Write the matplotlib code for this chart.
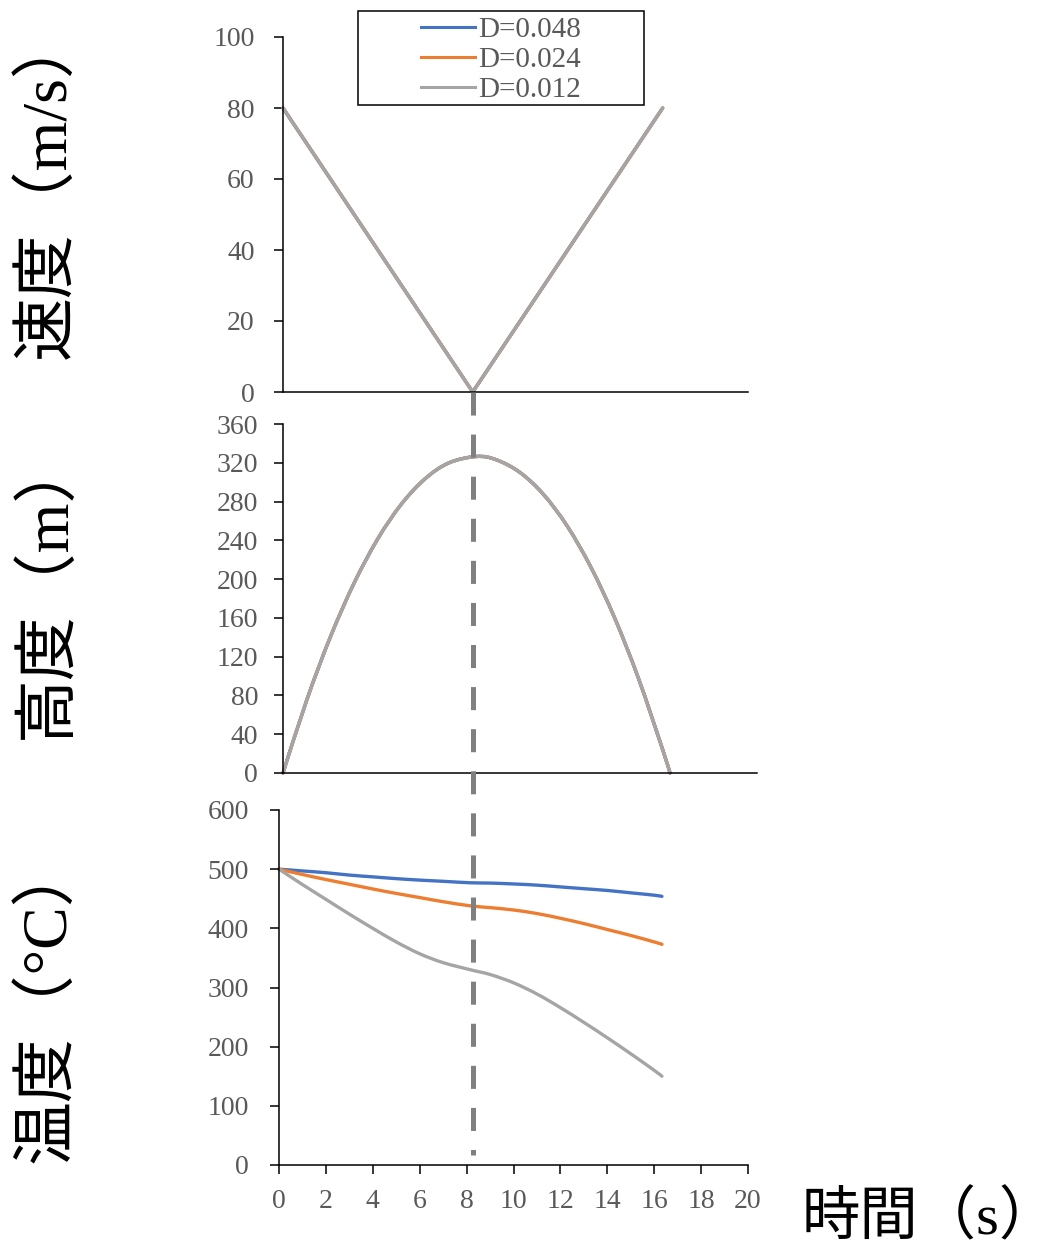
import matplotlib
matplotlib.use("Agg")
import matplotlib.pyplot as plt
from matplotlib.lines import Line2D
from matplotlib.patches import Rectangle, PathPatch
from matplotlib.path import Path

# ---- data ----
series_labels = ["D=0.048", "D=0.024", "D=0.012"]
series_colors = ["#4472C4", "#ED7D31", "#A5A5A5"]

# velocity (same for all diameters)
t_vel = [0, 8.16, 16.33]
velocity = [80, 0, 80]

# height (same for all diameters)
t_h = [0, 1, 2, 3, 4, 5, 6, 7, 8.16, 9, 10, 11, 12, 13, 14, 15, 16, 16.33]
height = [0, 75.1, 140.4, 195.9, 241.6, 277.5, 303.6, 319.9, 326.5,
          323.1, 310.0, 287.1, 254.4, 211.9, 159.6, 97.5, 25.6, 0]

# temperature for each diameter
t_temp = [0, 1, 2, 3, 4, 5, 6, 7, 8.16, 9, 10, 11, 12, 13, 14, 15, 16, 16.33]
temp_d048 = [500, 497, 494, 490, 487, 484, 481.5, 479.5, 477,
             476.5, 475, 473, 470, 467, 464, 460, 456, 454]
temp_d024 = [500, 491, 482.5, 474.5, 466.5, 459, 452, 445, 438,
             435, 431, 425, 417, 408, 398, 388, 377, 373]
temp_d012 = [500, 474, 449, 424, 400, 377, 357, 342, 330,
             322, 308, 289, 266, 241, 215, 188, 160, 150]

t_peak = 8.16

vel_ticks = [0, 20, 40, 60, 80, 100]
h_ticks = [0, 40, 80, 120, 160, 200, 240, 280, 320, 360]
temp_ticks = [0, 100, 200, 300, 400, 500, 600]
time_ticks = [0, 2, 4, 6, 8, 10, 12, 14, 16, 18, 20]

# ---- figure ----
W, H = 1056, 1249
DPI = 100
fig = plt.figure(figsize=(W / DPI, H / DPI), dpi=DPI)

serif = ["Liberation Serif", "DejaVu Serif"]
label_font = ["Liberation Serif", "Noto Sans CJK JP"]
tick_color = "#595959"


def px_rect(left, right, top, bottom):
    return [left / W, 1 - bottom / H, (right - left) / W, (bottom - top) / H]


ax_v = fig.add_axes(px_rect(283, 748, 37, 392))
ax_h = fig.add_axes(px_rect(283, 757, 424, 773))
ax_t = fig.add_axes(px_rect(279, 748, 810, 1165))


def style(ax, yticks, pad, show_x):
    ax.set_xlim(0, 20)
    ax.set_ylim(yticks[0], yticks[-1])
    ax.set_yticks(yticks)
    for side in ("top", "right"):
        ax.spines[side].set_visible(False)
    for side in ("left", "bottom"):
        ax.spines[side].set_linewidth(1.1)
        ax.spines[side].set_color("black")
    ax.tick_params(axis="y", direction="out", length=6.5, width=1.1,
                   labelsize=20, labelcolor=tick_color, pad=pad)
    if show_x:
        ax.set_xticks(time_ticks)
        ax.tick_params(axis="x", direction="out", length=6.5, width=1.1,
                       labelsize=20, labelcolor=tick_color, pad=11)
    else:
        ax.set_xticks([])
    for lab in ax.get_yticklabels() + ax.get_xticklabels():
        lab.set_fontfamily(serif)


def smooth_line(ax, xs, ys, color, lw):
    """Draw a smoothed (Catmull-Rom / Bezier) line through the points."""
    pts = list(zip(xs, ys))
    n = len(pts)
    verts = [pts[0]]
    codes = [Path.MOVETO]
    for i in range(n - 1):
        p0 = pts[i - 1] if i > 0 else pts[i]
        p1 = pts[i]
        p2 = pts[i + 1]
        p3 = pts[i + 2] if i + 2 < n else pts[i + 1]
        c1 = (p1[0] + (p2[0] - p0[0]) / 6, p1[1] + (p2[1] - p0[1]) / 6)
        c2 = (p2[0] - (p3[0] - p1[0]) / 6, p2[1] - (p3[1] - p1[1]) / 6)
        verts += [c1, c2, p2]
        codes += [Path.CURVE4] * 3
    patch = PathPatch(Path(verts, codes), facecolor="none", edgecolor=color,
                      lw=lw, capstyle="round", joinstyle="round", clip_on=False)
    ax.add_patch(patch)


for ax in (ax_v, ax_h, ax_t):
    ax.set_facecolor("none")

style(ax_v, vel_ticks, 14, False)
style(ax_h, h_ticks, 11.5, False)
style(ax_t, temp_ticks, 15, True)

lw = 2.4
for c in series_colors:
    ax_v.plot(t_vel, velocity, color=c, lw=lw, solid_capstyle="round", clip_on=False)
    smooth_line(ax_h, t_h, height, c, lw)

for vals, c in zip([temp_d048, temp_d024, temp_d012], series_colors):
    smooth_line(ax_t, t_temp, vals, c, lw)

# vertical dashed marker at the top of the trajectory
inv = fig.transFigure.inverted()
x0, y0 = inv.transform(ax_v.transData.transform((t_peak, 0)))
_, y1 = inv.transform(ax_t.transData.transform((t_peak, 17)))
dash_lw = 3.6
fig.add_artist(Line2D([x0, x0], [y0, y1], transform=fig.transFigure,
                      color="#808080", lw=dash_lw,
                      dashes=(16.6 / dash_lw, 13.7 / dash_lw),
                      solid_capstyle="butt", dash_capstyle="butt", zorder=5))

# legend
handles = [Line2D([], [], color=c, lw=2.2) for c in series_colors]
leg = fig.legend(handles, series_labels, loc="center",
                 bbox_to_anchor=(501 / W, 1 - 60 / H),
                 frameon=False, handlelength=1.85, handletextpad=0.1,
                 labelspacing=0.13, borderpad=0,
                 prop={"family": serif, "size": 21})
for txt in leg.get_texts():
    txt.set_color(tick_color)
fig.add_artist(Rectangle((358 / W, 1 - 105 / H), (644 - 358) / W, (105 - 11) / H,
                         transform=fig.transFigure, fill=False,
                         edgecolor="black", lw=1.1))

# axis titles
ylab_kw = dict(rotation=90, ha="center", va="center", fontsize=46,
               family=label_font, color="black")
fig.text(48 / W, 1 - 185 / H, "速度（m/s）", **ylab_kw)
fig.text(48 / W, 1 - 586 / H, "高度（m）", **ylab_kw)
fig.text(48 / W, 1 - 1001 / H, "温度（°C）", **ylab_kw)
fig.text(802 / W, 1 - 1219 / H, "時間（s）", ha="left", va="center",
         fontsize=42, family=label_font, color="black")

fig.savefig("out.png", dpi=DPI, facecolor="white")
